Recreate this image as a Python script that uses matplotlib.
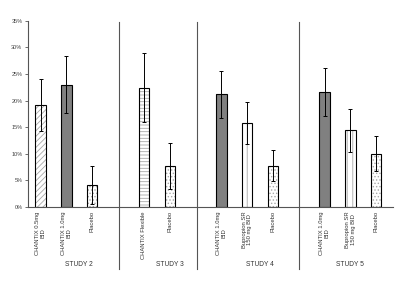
import matplotlib
matplotlib.use("Agg")
import matplotlib.pyplot as plt

plt.rcParams['font.family'] = ['Liberation Sans', 'DejaVu Sans']
plt.rcParams['hatch.linewidth'] = 0.6

# bar data
labels = ['CHANTIX 0.5mg\nBID', 'CHANTIX 1.0mg\nBID', 'Placebo',
          'CHANTIX Flexible', 'Placebo',
          'CHANTIX 1.0mg\nBID', 'Bupropion SR\n150 mg BID', 'Placebo',
          'CHANTIX 1.0mg\nBID', 'Bupropion SR\n150 mg BID', 'Placebo']
slots = [0, 1, 2, 4, 5, 7, 8, 9, 11, 12, 13]
values = [19.1, 23.0, 4.1, 22.4, 7.7, 21.2, 15.8, 7.8, 21.6, 14.4, 10.0]
errors = [4.9, 5.3, 3.6, 6.5, 4.4, 4.4, 4.0, 2.9, 4.5, 4.0, 3.3]
kinds = ['diag', 'solid', 'dots', 'horiz', 'dots',
         'solid', 'vert', 'dots', 'solid', 'vert', 'dots']

studies = ['STUDY 2', 'STUDY 3', 'STUDY 4', 'STUDY 5']
study_pos = [1.5, 5.0, 8.5, 12.0]
separators = [3.05, 6.05, 10.0]
yticks = [0, 5, 10, 15, 20, 25, 30, 35]

styles = {
    'diag': dict(color='white', hatch='//////'),
    'solid': dict(color='#808080', hatch=None),
    'dots': dict(color='white', hatch='.....'),
    'horiz': dict(color='white', hatch='-----'),
    'vert': dict(color='white', hatch='|||'),
}

fig = plt.figure(figsize=(4.0, 2.82), dpi=100)
ax = fig.add_axes([0.07, 0.266, 0.9125, 0.66])

for x, v, e, k in zip(slots, values, errors, kinds):
    st = styles[k]
    ax.bar(x, v, width=0.4, color=st['color'], linewidth=0)
    if st['hatch']:
        ax.bar(x, v, width=0.4, color='none', hatch=st['hatch'],
               edgecolor='#a8a8a8', linewidth=0)
    ax.bar(x, v, width=0.4, color='none', edgecolor='black', linewidth=0.8)
    ax.errorbar(x, v, yerr=e, fmt='none', ecolor='black', elinewidth=0.7,
                capsize=1.5, capthick=0.7)

ax.set_xlim(-0.49, 13.65)
ax.set_ylim(0, 35)
ax.set_yticks(yticks)
ax.set_yticklabels([f'{t}%' for t in yticks], fontsize=4, color='#444444')
ax.tick_params(axis='y', length=2, width=0.6, pad=2, color='#555555')

ax.set_xticks(slots)
ax.set_xticklabels(labels, rotation=90, fontsize=4.2, color='#333333',
                   linespacing=1.1, va='top', ha='center')
ax.tick_params(axis='x', length=0, pad=3)

for sp in ['top', 'right']:
    ax.spines[sp].set_visible(False)
ax.spines['left'].set_color('#555555')
ax.spines['bottom'].set_color('#555555')
ax.spines['left'].set_linewidth(0.8)
ax.spines['bottom'].set_linewidth(0.8)

for s in separators:
    ax.plot([s, s], [-11.6, 34.8], color='#555555', linewidth=0.8,
            clip_on=False)

for name, p in zip(studies, study_pos):
    ax.text(p, -10.8, name, fontsize=4.8, ha='center', va='center',
            color='#333333')

fig.savefig('out.png', dpi=100)
